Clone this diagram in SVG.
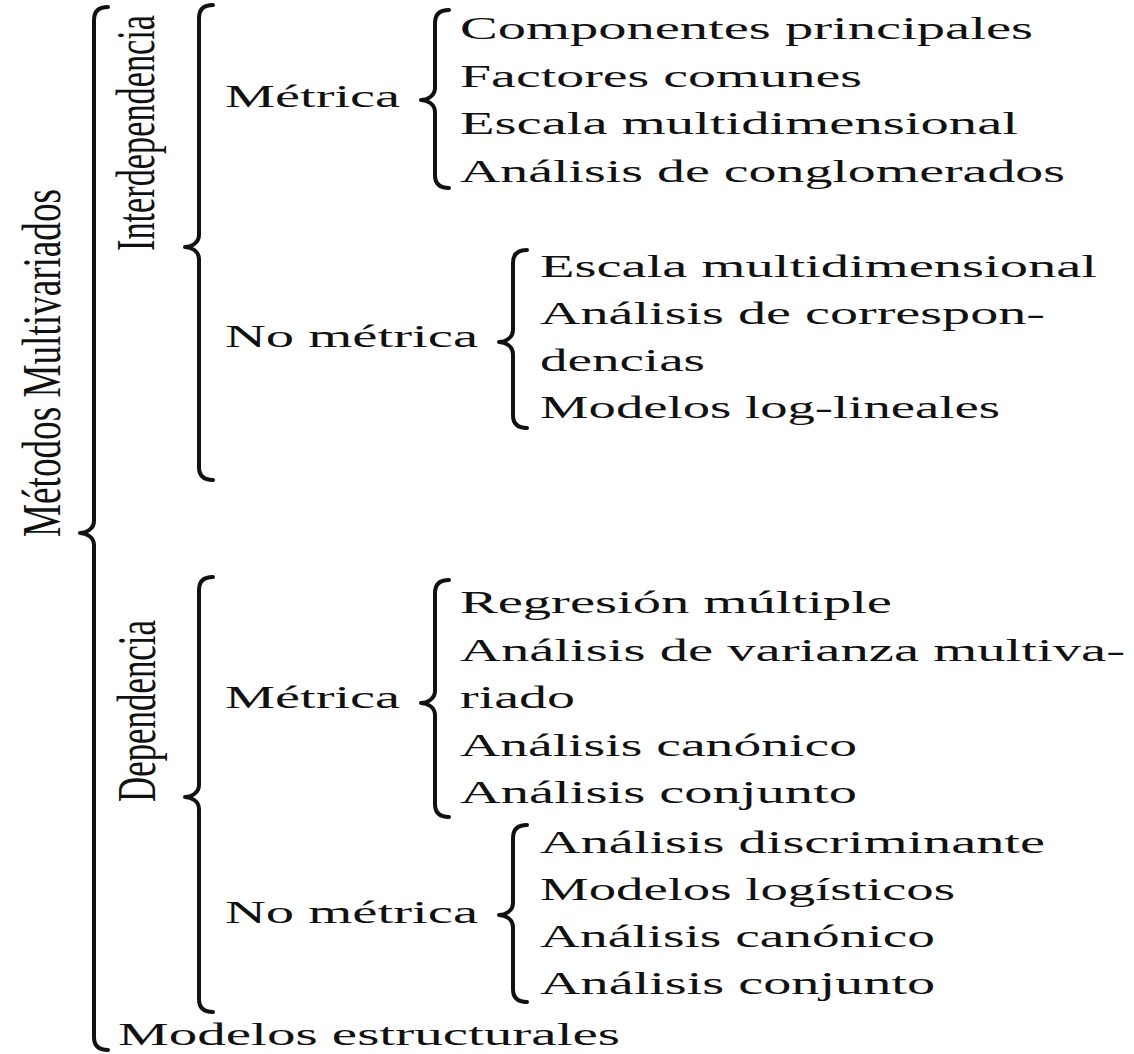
<svg xmlns="http://www.w3.org/2000/svg" width="1134" height="1054" viewBox="0 0 1134 1054">
<style>
.t{font-family:"Liberation Serif","DejaVu Serif",serif;font-size:31px;fill:#111}
.r{font-size:34px}
.b{fill:none;stroke:#111;stroke-width:4;stroke-linecap:round;stroke-linejoin:round}
</style>
<rect width="1134" height="1054" fill="#fff"/>
<g id="connectors">
<path class="b" d="M108,7 C98,7 94,12 94,20 L94,521 C94,529 86,533 80,533 C86,533 94,537 94,545 L94,1037 C94,1045 98,1050 108,1050"/>
<path class="b" d="M213,5 C203,5 199,10 199,18 L199,235 C199,243 191,247 185,247 C191,247 199,251 199,259 L199,467 C199,475 203,480 213,480"/>
<path class="b" d="M213,577 C203,577 199,582 199,590 L199,785 C199,793 191,797 185,797 C191,797 199,801 199,809 L199,999 C199,1007 203,1012 213,1012"/>
<path class="b" d="M449,10 C439,10 435,15 435,23 L435,88 C435,96 427,100 421,100 C427,100 435,104 435,112 L435,175 C435,183 439,188 449,188"/>
<path class="b" d="M527,250 C517,250 513,255 513,263 L513,330 C513,338 505,342 499,342 C505,342 513,346 513,354 L513,415 C513,423 517,428 527,428"/>
<path class="b" d="M449,580 C439,580 435,585 435,593 L435,691 C435,699 427,703 421,703 C427,703 435,707 435,715 L435,804 C435,812 439,817 449,817"/>
<path class="b" d="M527,825 C517,825 513,830 513,838 L513,903 C513,911 505,915 499,915 C505,915 513,919 513,927 L513,989 C513,997 517,1002 527,1002"/>
</g>
<g id="n-root"><text class="t r" transform="translate(60,537) rotate(-90) scale(1,1.62)" textLength="348" lengthAdjust="spacingAndGlyphs">Métodos Multivariados</text></g>
<g id="n-interdependencia"><text class="t r" transform="translate(154,251) rotate(-90) scale(1,1.62)" textLength="236" lengthAdjust="spacingAndGlyphs">Interdependencia</text></g>
<g id="n-dependencia"><text class="t r" transform="translate(155,802) rotate(-90) scale(1,1.62)" textLength="182" lengthAdjust="spacingAndGlyphs">Dependencia</text></g>
<g id="n-inter-metrica"><text class="t" x="225" y="107" textLength="175" lengthAdjust="spacingAndGlyphs">Métrica</text></g>
<g id="n-inter-metrica-items">
<text class="t" x="460" y="39" textLength="573" lengthAdjust="spacingAndGlyphs">Componentes principales</text>
<text class="t" x="460" y="87" textLength="402" lengthAdjust="spacingAndGlyphs">Factores comunes</text>
<text class="t" x="460" y="134" textLength="558" lengthAdjust="spacingAndGlyphs">Escala multidimensional</text>
<text class="t" x="460" y="182" textLength="605" lengthAdjust="spacingAndGlyphs">Análisis de conglomerados</text>
</g>
<g id="n-inter-nometrica"><text class="t" x="225" y="347" textLength="253" lengthAdjust="spacingAndGlyphs">No métrica</text></g>
<g id="n-inter-nometrica-items">
<text class="t" x="540" y="277" textLength="557" lengthAdjust="spacingAndGlyphs">Escala multidimensional</text>
<text class="t" x="540" y="324" textLength="505" lengthAdjust="spacingAndGlyphs">Análisis de correspon-</text>
<text class="t" x="540" y="371" textLength="165" lengthAdjust="spacingAndGlyphs">dencias</text>
<text class="t" x="540" y="418" textLength="460" lengthAdjust="spacingAndGlyphs">Modelos log-lineales</text>
</g>
<g id="n-dep-metrica"><text class="t" x="225" y="708" textLength="175" lengthAdjust="spacingAndGlyphs">Métrica</text></g>
<g id="n-dep-metrica-items">
<text class="t" x="460" y="613" textLength="432" lengthAdjust="spacingAndGlyphs">Regresión múltiple</text>
<text class="t" x="460" y="661" textLength="665" lengthAdjust="spacingAndGlyphs">Análisis de varianza multiva-</text>
<text class="t" x="460" y="708" textLength="115" lengthAdjust="spacingAndGlyphs">riado</text>
<text class="t" x="460" y="756" textLength="397" lengthAdjust="spacingAndGlyphs">Análisis canónico</text>
<text class="t" x="460" y="803" textLength="397" lengthAdjust="spacingAndGlyphs">Análisis conjunto</text>
</g>
<g id="n-dep-nometrica"><text class="t" x="225" y="923" textLength="253" lengthAdjust="spacingAndGlyphs">No métrica</text></g>
<g id="n-dep-nometrica-items">
<text class="t" x="540" y="853" textLength="505" lengthAdjust="spacingAndGlyphs">Análisis discriminante</text>
<text class="t" x="540" y="900" textLength="415" lengthAdjust="spacingAndGlyphs">Modelos logísticos</text>
<text class="t" x="540" y="947" textLength="395" lengthAdjust="spacingAndGlyphs">Análisis canónico</text>
<text class="t" x="540" y="994" textLength="395" lengthAdjust="spacingAndGlyphs">Análisis conjunto</text>
</g>
<g id="n-estructurales"><text class="t" x="118" y="1045" textLength="502" lengthAdjust="spacingAndGlyphs">Modelos estructurales</text></g>
</svg>
